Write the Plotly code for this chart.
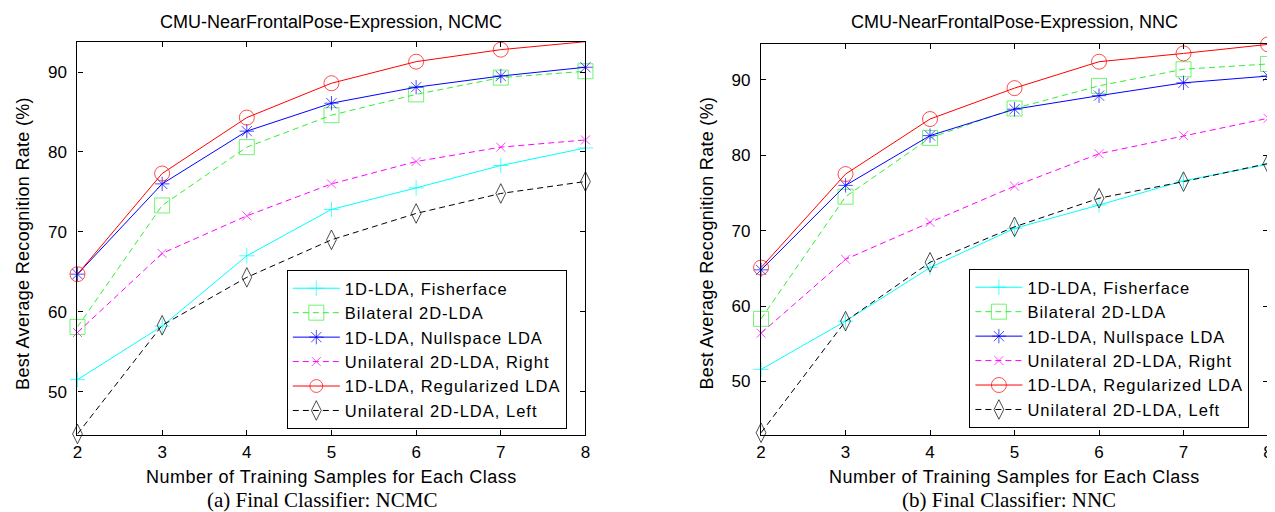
import plotly.graph_objects as go

# ---------------- data ----------------
x_samples = [2, 3, 4, 5, 6, 7, 8]
series_names = [
    "1D-LDA, Fisherface",
    "Bilateral 2D-LDA",
    "1D-LDA, Nullspace LDA",
    "Unilateral 2D-LDA, Right",
    "1D-LDA, Regularized LDA",
    "Unilateral 2D-LDA, Left",
]

# (a) Final classifier: NCMC
ncmc_fisherface = [51.5, 58.2, 67.0, 72.8, 75.5, 78.3, 80.5]
ncmc_bilateral = [58.1, 73.3, 80.6, 84.6, 87.2, 89.3, 90.1]
ncmc_nullspace = [64.7, 76.0, 82.6, 86.1, 88.1, 89.5, 90.6]
ncmc_right = [57.4, 67.3, 72.0, 76.0, 78.8, 80.6, 81.5]
ncmc_regularized = [64.7, 77.3, 84.3, 88.6, 91.3, 92.8, 93.8]
ncmc_left = [44.7, 58.3, 64.3, 69.0, 72.3, 74.8, 76.3]

# (b) Final classifier: NNC
nnc_fisherface = [51.6, 58.0, 65.1, 70.3, 73.4, 76.6, 78.8]
nnc_bilateral = [58.3, 74.5, 82.3, 86.2, 89.2, 91.4, 92.1]
nnc_nullspace = [64.8, 76.0, 82.6, 86.1, 87.9, 89.6, 90.5]
nnc_right = [56.4, 66.2, 71.1, 75.9, 80.2, 82.6, 84.9]
nnc_regularized = [65.1, 77.5, 84.8, 88.9, 92.4, 93.5, 94.7]
nnc_left = [43.2, 58.0, 65.8, 70.5, 74.3, 76.5, 78.9]

y_ticks = [50, 60, 70, 80, 90]
x_ticks = [2, 3, 4, 5, 6, 7, 8]

panel_titles = ["CMU-NearFrontalPose-Expression, NCMC", "CMU-NearFrontalPose-Expression, NNC"]
captions = ["(a) Final Classifier: NCMC", "(b) Final Classifier: NNC"]
x_title = "Number of Training Samples for Each Class"
y_title = "Best Average Recognition Rate (%)"

# ---------------- styles ----------------
styles = [
    dict(color="#00FFFF", dash="solid", symbol="cross-thin-open", size=11),
    dict(color="#33EE33", dash="6px,4px", symbol="square-open", size=15),
    dict(color="#0000FF", dash="solid", symbol="asterisk-open", size=12),
    dict(color="#FF00FF", dash="6px,4px", symbol="x-thin-open", size=9),
    dict(color="#FF0000", dash="solid", symbol="circle-open", size=15),
    dict(color="#000000", dash="6px,4px", symbol="diamond-tall-open", size=14),
]

# page is shown with the browser's default 8px body margin
OFF = 8
W, H = 1275 - OFF, 512 - OFF
FONT = "Liberation Sans, Arial, Helvetica, sans-serif"
SERIF = "Liberation Serif, Times New Roman, serif"


def px_x(p):
    return (p - OFF) / W


def px_y(p):
    return 1 - (p - OFF) / H


def spaced(text, ls):
    return "<span style='letter-spacing:%spx'>%s</span>" % (ls, text)


panels = [
    dict(data=[ncmc_fisherface, ncmc_bilateral, ncmc_nullspace, ncmc_right, ncmc_regularized, ncmc_left],
         xpx=(73, 585), ypx=(42, 435), yrange=(44.57, 93.76), legend="legend",
         legpx=(284, 270), ytitle_x=18, cap_dx=-10),
    dict(data=[nnc_fisherface, nnc_bilateral, nnc_nullspace, nnc_right, nnc_regularized, nnc_left],
         xpx=(762, 1273), ypx=(44, 435), yrange=(42.9, 94.75), legend="legend2",
         legpx=(972, 269), ytitle_x=708, cap_dx=-6),
]

fig = go.Figure()
annotations = []
layout_extra = {}

for pi, p in enumerate(panels):
    xa = "x" if pi == 0 else "x2"
    ya = "y" if pi == 0 else "y2"
    ymin, ymax = p["yrange"]
    for si, vals in enumerate(p["data"]):
        st = styles[si]
        sizes = [st["size"] if ymin <= v <= ymax else 0 for v in vals]
        fig.add_trace(go.Scatter(
            x=x_samples, y=vals, name=spaced(series_names[si], 1), mode="lines+markers",
            xaxis=xa, yaxis=ya, legend=p["legend"], cliponaxis=False,
            line=dict(color=st["color"], width=1, dash=st["dash"]),
            marker=dict(symbol=st["symbol"], size=sizes, color=st["color"],
                        line=dict(color=st["color"], width=1)),
        ))

    x0, x1 = p["xpx"]
    y0, y1 = p["ypx"]
    axis_common = dict(
        showline=True, linecolor="black", linewidth=1.3, mirror="allticks",
        ticks="inside", ticklen=5, tickwidth=1, tickcolor="black",
        showgrid=False, zeroline=False,
        tickfont=dict(family=FONT, size=17, color="black"),
    )
    xkey = "xaxis" if pi == 0 else "xaxis2"
    ykey = "yaxis" if pi == 0 else "yaxis2"
    layout_extra[xkey] = dict(axis_common, domain=[px_x(x0), px_x(x1)], range=[2, 8],
                              tickvals=x_ticks, anchor=ya, ticklabelstandoff=1)
    layout_extra[ykey] = dict(axis_common, domain=[px_y(y1), px_y(y0)], range=[ymin, ymax],
                              tickvals=y_ticks, anchor=xa, ticklabelstandoff=6)

    lx, ly = p["legpx"]
    layout_extra[p["legend"]] = dict(
        x=px_x(lx), y=px_y(ly), xanchor="left", yanchor="top",
        bgcolor="white", bordercolor="black", borderwidth=1,
        font=dict(family=FONT, size=16.5, color="black"),
        itemwidth=47, tracegroupgap=0,
    )

    cx_px = (x0 + x1) / 2
    annotations.append(dict(text=panel_titles[pi], x=px_x(cx_px), y=px_y(22), xref="paper", yref="paper",
                            showarrow=False, font=dict(family=FONT, size=18, color="black"),
                            xanchor="center", yanchor="middle"))
    annotations.append(dict(text=spaced(x_title, 0.5), x=px_x(cx_px), y=px_y(477), xref="paper",
                            yref="paper", showarrow=False,
                            font=dict(family=FONT, size=18, color="black"),
                            xanchor="center", yanchor="middle"))
    annotations.append(dict(text=captions[pi], x=px_x(cx_px + p["cap_dx"]), y=px_y(500), xref="paper",
                            yref="paper", showarrow=False,
                            font=dict(family=SERIF, size=21, color="black"),
                            xanchor="center", yanchor="middle"))
    annotations.append(dict(text=spaced(y_title, 0.3), x=px_x(p["ytitle_x"]), y=px_y(243),
                            xref="paper", yref="paper", textangle=-90,
                            showarrow=False, font=dict(family=FONT, size=18, color="black"),
                            xanchor="center", yanchor="middle"))

fig.update_layout(
    width=W, height=H,
    margin=dict(l=0, r=0, t=0, b=0),
    paper_bgcolor="white", plot_bgcolor="white",
    showlegend=True,
    annotations=annotations,
    **layout_extra,
)

fig.write_html("out.html")
